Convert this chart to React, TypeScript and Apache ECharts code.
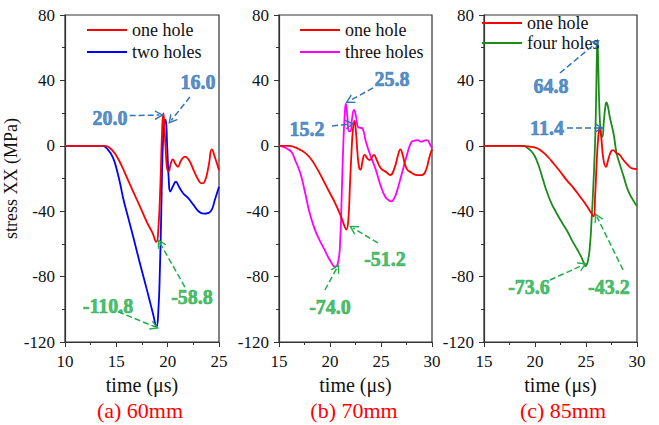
import React, { useEffect, useRef } from "react";
import * as echarts from "echarts";

// ---------- data ----------
const panelTitles = ["(a) 60mm", "(b) 70mm", "(c) 85mm"];
const xRanges = [
  [10, 25],
  [15, 30],
  [15, 30],
];
const legendNames = [
  ["one hole", "two holes"],
  ["one hole", "three holes"],
  ["one hole", "four holes"],
];

const oneHole60 = [
  [10, 0], [13, 0], [13.9, 0], [14.4, -1.5], [14.9, -5], [15.5, -12], [16, -19], [16.5, -26],
  [17, -33], [17.5, -40], [18, -47], [18.5, -53], [18.9, -58.8], [19.1, -50], [19.3, -22],
  [19.45, 8], [19.58, 20], [19.7, 10], [19.82, -4], [19.95, -14], [20.1, -15.5], [20.3, -11],
  [20.5, -8.3], [20.75, -11], [21.0, -12.8], [21.3, -9], [21.7, -6.6], [22.1, -9], [22.6, -16],
  [23.0, -21], [23.3, -23], [23.6, -22], [24.0, -12], [24.3, -2.2], [24.6, -7], [25, -15],
];
const twoHoles60 = [
  [10, 0], [13, 0], [13.6, 0], [14.2, -2.5], [14.7, -7.7], [15.1, -16], [15.4, -24], [15.7, -33],
  [16.2, -45], [16.7, -57], [17.2, -69.5], [17.7, -81.5], [18.2, -93.5], [18.6, -103.5],
  [18.9, -110.8], [19.1, -100], [19.25, -74], [19.38, -40], [19.5, -5], [19.65, 12], [19.8, 16],
  [19.95, 0], [20.1, -20], [20.25, -28], [20.5, -25], [20.8, -22], [21.1, -25], [21.5, -29],
  [22, -32], [22.5, -36], [23, -40], [23.5, -41.5], [24, -41], [24.3, -39], [24.6, -33], [25, -25],
];
const oneHole70 = [
  [15, 0], [16, 0], [16.5, -0.8], [17, -2.2], [17.5, -4], [18, -7], [18.5, -11.5], [19, -17],
  [19.5, -23], [20, -29], [20.5, -35], [21, -42], [21.3, -47], [21.6, -51.2], [21.8, -45],
  [21.95, -25], [22.1, -5], [22.25, 10], [22.4, 15.2], [22.55, 8], [22.7, -5], [22.85, -13],
  [23, -14.5], [23.2, -9], [23.4, -5.6], [23.7, -8], [23.9, -8.7], [24.3, -5.6], [24.6, -9],
  [25, -13.8], [25.5, -16], [25.9, -17.9], [26.3, -14], [26.7, -5], [26.9, -2.2], [27.1, -5],
  [27.5, -13.8], [28, -16.5], [28.5, -17.9], [29, -17.9], [29.4, -15], [29.7, -8], [30, -2],
];
const threeHoles70 = [
  [15, 0], [15.3, -0.3], [15.7, -1.5], [16.2, -3.6], [16.6, -9], [17.1, -17], [17.5, -27],
  [18, -41], [18.5, -51], [19, -58], [19.5, -64], [20, -70], [20.5, -74], [20.8, -71],
  [21.0, -58], [21.15, -30], [21.3, 0], [21.45, 20], [21.55, 25.8], [21.7, 18], [21.85, 9],
  [22.0, 9], [22.15, 16], [22.35, 22], [22.55, 18], [22.75, 11.5], [23.0, 11], [23.2, 10.5],
  [23.5, 3], [24, -6.6], [24.4, -13], [24.7, -19], [25.0, -25], [25.4, -31], [25.7, -33],
  [26, -34], [26.3, -32], [26.6, -27], [27, -18], [27.5, -6.6], [28, 2.5], [28.3, 3.2],
  [28.6, 3.5], [28.9, 2.5], [29.2, 3], [29.5, 3.5], [29.8, 1], [30, -1.5],
];
const oneHole85 = [
  [15, 0], [18.5, 0], [19.5, -0.5], [20.2, -1.5], [20.8, -4], [21.3, -7], [21.8, -10.7],
  [22.5, -16], [23.1, -21], [23.8, -26], [24.4, -31], [25, -36], [25.5, -41], [25.75, -43.2],
  [25.9, -30], [26.05, -10], [26.2, 5], [26.35, 11.4], [26.5, 5], [26.7, -8], [26.95, -12.8],
  [27.2, -8], [27.45, -3.5], [27.65, -2.6], [28, -4.5], [28.3, -5.6], [28.7, -9], [29.1, -11.7],
  [29.5, -13.8], [30, -14.2],
];
const fourHoles85 = [
  [15, 0], [18.85, 0], [19.3, -1.5], [19.8, -4.6], [20.2, -9.5], [20.5, -14.8], [20.8, -21],
  [21.1, -27], [21.6, -35], [22.1, -41], [22.6, -46.5], [23.1, -51.5], [23.6, -57.5],
  [24.1, -63], [24.5, -67.5], [24.75, -71], [24.95, -73.6], [25.2, -70], [25.4, -60], [25.55, -45],
  [25.7, -27], [25.85, -5], [25.95, 15], [26.05, 50], [26.12, 64.8], [26.2, 50], [26.3, 25],
  [26.45, 8], [26.6, 5.5], [26.75, 15], [26.9, 24], [27.0, 26.5], [27.15, 24], [27.35, 17],
  [27.7, 7.5], [28, -4.5], [28.3, -11], [28.7, -19], [29.1, -27], [29.5, -32], [30, -37],
];

// annotation texts: [t, value, label]
const blueNotes = [
  [[14.38, 17.0, "20.0"], [22.95, 39.0, "16.0"]],
  [[26.08, 40.9, "25.8"], [17.75, 10.3, "15.2"]],
  [[21.57, 36.6, "64.8"], [21.18, 10.9, "11.4"]],
];
const greenNotes = [
  [[14.19, -98.0, "-110.8"], [22.37, -92.5, "-58.8"]],
  [[25.39, -69.2, "-51.2"], [20.0, -98.5, "-74.0"]],
  [[19.41, -86.3, "-73.6"], [27.25, -86.3, "-43.2"]],
];
// arrows: [t1, v1, t2, v2]
const blueArrows = [
  [[16.3, 18.5, 19.2, 18.8], [22.17, 29.8, 20.35, 15.6]],
  [[24.22, 35.4, 21.9, 27.5], [20.2, 12.1, 21.96, 13.3]],
  [[22.45, 44.5, 26.0, 63.0], [23.14, 10.9, 26.3, 10.9]],
];
const greenArrows = [
  [[15.16, -101.5, 18.76, -110.7], [21.68, -86.4, 19.25, -59.4]],
  [[24.7, -59.4, 22.25, -50.3], [19.5, -88.2, 20.69, -74.7]],
  [[21.47, -82.1, 24.7, -72.9], [28.63, -75.9, 26.08, -43.5]],
];

const seriesData = [
  [oneHole60, twoHoles60],
  [oneHole70, threeHoles70],
  [oneHole85, fourHoles85],
];
const seriesColors = [
  ["#ff0000", "#0000ff"],
  ["#ff0000", "#ff00ff"],
  ["#ff0000", "#1a8c1a"],
];

const BLUE_NOTE = "#2f74b9";
const GREEN_NOTE = "#1fae4a";
const FONT = "'Liberation Serif', 'Times New Roman', serif";
const TEXT = "#111";
const CHEVRON = "path://M5,0 L10,10 L8.4,10 L5,3.2 L1.6,10 L0,10 Z";

const gridLefts = [65, 279, 484];
const gridWidths = [154, 153, 153];
const legendPos = [
  { left: 87, top: 21, gap: 4 },
  { left: 300, top: 21, gap: 4 },
  { left: 482, top: 14, gap: 2 },
];
const titleCenters = [140, 354, 563];

export default function App() {
  const ref = useRef<HTMLDivElement>(null);
  useEffect(() => {
    if (!ref.current) return;
    const chart = echarts.init(ref.current, undefined, { renderer: "svg" });
    const grids: any[] = [];
    const xAxes: any[] = [];
    const yAxes: any[] = [];
    const series: any[] = [];
    const legends: any[] = [];
    const graphics: any[] = [];
    for (let i = 0; i < 3; i++) {
      grids.push({
        left: gridLefts[i],
        width: gridWidths[i],
        top: 15,
        height: 327,
        show: true,
        borderColor: "#333",
        borderWidth: 1.2,
        backgroundColor: "transparent",
      });
      xAxes.push({
        type: "value",
        gridIndex: i,
        min: xRanges[i][0],
        max: xRanges[i][1],
        interval: 5,
        name: "time (\u03bcs)",
        nameLocation: "middle",
        nameGap: 20,
        nameTextStyle: { fontFamily: FONT, fontSize: 20, color: TEXT },
        axisLine: { onZero: false, lineStyle: { color: "#333", width: 1.2 } },
        axisTick: { inside: false, length: 5, lineStyle: { color: "#333" } },
        minorTick: { show: true, splitNumber: 2, length: 3, lineStyle: { color: "#333" } },
        splitLine: { show: false },
        axisLabel: { fontFamily: FONT, fontSize: 17, color: TEXT, margin: 11 },
      });
      yAxes.push({
        type: "value",
        gridIndex: i,
        min: -120,
        max: 80,
        interval: 40,
        name: i === 0 ? "stress XX (MPa)" : "",
        nameLocation: "middle",
        nameGap: 45,
        nameTextStyle: { fontFamily: FONT, fontSize: 18, color: TEXT },
        axisLine: { show: true, onZero: false, lineStyle: { color: "#333", width: 1.2 } },
        axisTick: { show: true, inside: false, length: 5, lineStyle: { color: "#333" } },
        minorTick: { show: true, splitNumber: 2, length: 3, lineStyle: { color: "#333" } },
        splitLine: { show: false },
        axisLabel: { fontFamily: FONT, fontSize: 17, color: TEXT, margin: 10 },
      });
      for (let k = 0; k < 2; k++) {
        series.push({
          type: "line",
          name: legendNames[i][k],
          xAxisIndex: i,
          yAxisIndex: i,
          data: seriesData[i][k],
          symbol: "none",
          smooth: 0.5,
          lineStyle: { color: seriesColors[i][k], width: 1.8 },
          itemStyle: { color: seriesColors[i][k] },
          z: k === 0 ? 3 : 2,
        });
      }
      const noteSeries = (notes: any[], arrows: any[], color: string) => ({
        type: "scatter",
        xAxisIndex: i,
        yAxisIndex: i,
        symbolSize: 1,
        itemStyle: { color: "rgba(0,0,0,0)" },
        silent: true,
        z: 10,
        data: notes.map((n) => ({ value: [n[0], n[1]], name: n[2] })),
        label: {
          show: true,
          position: "inside",
          formatter: "{b}",
          fontFamily: FONT,
          fontWeight: "bold",
          fontSize: 20,
          color,
          textBorderColor: color,
          textBorderWidth: 0.7,
        },
        markLine: {
          silent: true,
          symbol: ["none", CHEVRON],
          symbolSize: [10, 9],
          label: { show: false },
          lineStyle: { type: "dashed", color, width: 1.5 },
          data: arrows.map((a) => [{ coord: [a[0], a[1]] }, { coord: [a[2], a[3]] }]),
        },
      });
      series.push(noteSeries(blueNotes[i], blueArrows[i], BLUE_NOTE));
      series.push(noteSeries(greenNotes[i], greenArrows[i], GREEN_NOTE));
      legends.push({
        data: legendNames[i],
        left: legendPos[i].left,
        top: legendPos[i].top,
        orient: "vertical",
        icon: "rect",
        itemWidth: 40,
        itemHeight: 2,
        itemGap: legendPos[i].gap,
        padding: 0,
        selectedMode: false,
        textStyle: { fontFamily: FONT, fontSize: 18, color: TEXT },
      });
      graphics.push({
        type: "text",
        x: titleCenters[i],
        y: 410,
        style: {
          text: panelTitles[i],
          fontFamily: FONT,
          fontSize: 22,
          fill: "#ff0000",
          align: "center",
          verticalAlign: "middle",
        },
      });
    }
    chart.setOption({
      animation: false,
      backgroundColor: "#fff",
      textStyle: { fontFamily: FONT },
      grid: grids,
      xAxis: xAxes,
      yAxis: yAxes,
      legend: legends,
      series,
      graphic: graphics,
    });
    return () => chart.dispose();
  }, []);
  return (
    <div
      ref={ref}
      style={{ position: "fixed", left: 0, top: 0, width: 659, height: 425 }}
    />
  );
}
